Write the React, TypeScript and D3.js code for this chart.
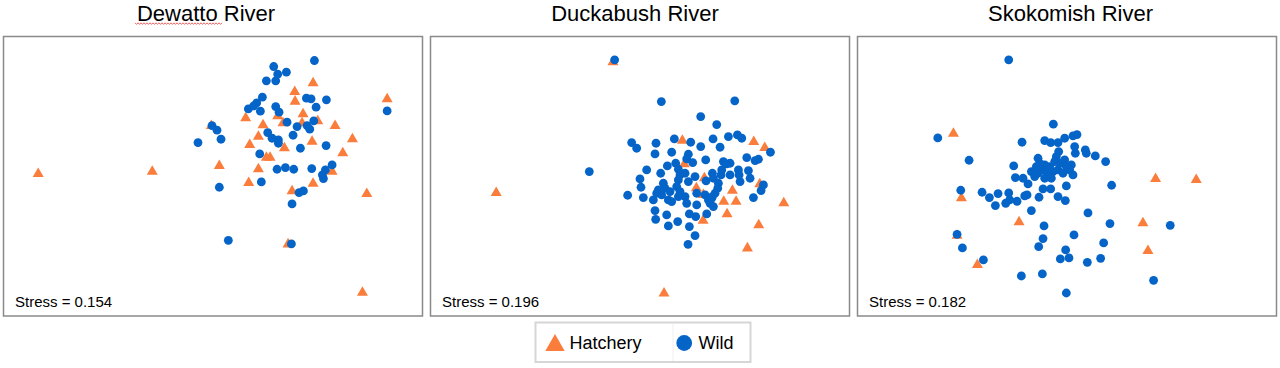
import React from "react";
import * as d3 from "d3";

type Pt = [number, number];

// ---- data (NMDS ordination scores; y grows downward) ----
const rivers = ["Dewatto River", "Duckabush River", "Skokomish River"];
const stressValues = [0.154, 0.196, 0.182];
const groups = ["Hatchery", "Wild"];

const dewattoWild: Pt[] = [
  [942, 182], [820, 200], [858, 217], [832, 223], [798, 243], [826, 243], [786, 292], [918, 295],
  [932, 297], [978, 300], [769, 309], [760, 318], [744, 327], [780, 334], [826, 320], [836, 337],
  [947, 322], [1160, 333], [860, 367], [890, 380], [920, 377], [940, 363], [928, 388], [635, 377],
  [650, 391], [662, 418], [593, 428], [802, 398], [815, 415], [834, 420], [834, 430], [878, 406],
  [900, 445], [977, 437], [778, 462], [830, 508], [855, 503], [880, 508], [934, 506], [995, 495],
  [975, 510], [966, 525], [969, 536], [783, 546], [657, 562], [896, 578], [909, 573], [875, 612],
  [684, 721], [873, 732],
];
const dewattoHatchery: Pt[] = [
  [938, 245], [883, 271], [884, 300], [1160, 293], [908, 338], [736, 350], [832, 344], [788, 371],
  [848, 365], [905, 365], [952, 359], [1004, 373], [633, 373], [1056, 413], [774, 405], [935, 420],
  [748, 430], [852, 440], [1027, 455], [657, 493], [798, 468], [809, 468], [774, 503], [995, 510],
  [745, 544], [938, 546], [875, 569], [1099, 577], [863, 728], [114, 517], [456, 510], [1086, 873],
];

const duckabushWild: Pt[] = [
  [560, 180], [700, 305], [920, 303], [818, 350], [866, 374], [484, 515],
  [611, 428], [626, 445], [684, 430], [681, 462], [739, 417], [788, 427], [818, 440], [855, 417],
  [901, 410], [928, 405], [941, 415], [876, 442], [1027, 457],
  [731, 457], [781, 463], [776, 477], [718, 498], [743, 490], [794, 488], [833, 480],
  [656, 510], [698, 520], [751, 508], [756, 525], [771, 520], [781, 545], [636, 537], [801, 530],
  [834, 543], [853, 520], [856, 535], [956, 473], [981, 482], [991, 478],
  [886, 485], [896, 492], [906, 490], [881, 510], [879, 525], [906, 525], [931, 510], [933, 525],
  [961, 512], [966, 535], [936, 545],
  [639, 562], [706, 550], [711, 565], [691, 570], [701, 585], [686, 580], [751, 540], [746, 560],
  [756, 575], [751, 590], [726, 575], [721, 600], [731, 605], [599, 586], [646, 593], [676, 600],
  [771, 590], [776, 610], [806, 580], [806, 615], [831, 585], [841, 600], [853, 590], [871, 550],
  [869, 565], [861, 580], [851, 595], [846, 610], [856, 620], [1006, 555], [999, 572], [976, 593],
  [681, 632], [716, 645], [749, 665], [784, 642], [803, 650], [683, 658], [721, 678], [784, 680],
  [801, 707], [780, 733], [836, 642],
];
const duckabushHatchery: Pt[] = [
  [555, 182], [763, 417], [977, 421], [1010, 439], [769, 488], [829, 530], [805, 560], [826, 580],
  [995, 548], [913, 567], [887, 600], [924, 600], [1067, 605], [897, 638], [825, 657], [992, 671],
  [958, 740], [708, 875], [205, 574],
];

const skokomishWild: Pt[] = [
  [462, 180], [596, 373], [249, 414], [502, 427], [570, 422], [588, 428], [610, 428], [630, 415],
  [655, 408], [667, 404], [660, 440], [662, 460], [692, 450], [695, 460], [722, 468], [753, 485],
  [343, 481], [477, 498],
  [612, 455], [605, 470], [600, 485], [615, 490], [630, 480], [635, 500], [650, 495], [645, 510],
  [655, 525], [550, 475], [555, 490], [545, 500], [570, 495], [585, 500], [565, 510], [580, 520],
  [595, 515], [610, 510], [625, 520], [590, 535], [570, 535], [550, 520], [530, 515], [540, 530],
  [520, 552], [482, 533], [505, 535], [635, 558], [565, 567], [588, 567], [771, 556], [318, 571],
  [382, 577], [404, 593], [430, 581], [462, 579], [422, 617], [453, 610], [487, 604], [465, 600],
  [510, 588], [517, 585], [553, 592], [610, 590], [632, 602], [530, 632], [700, 639], [568, 678],
  [766, 671], [658, 705], [565, 716], [552, 740], [947, 676], [307, 703], [323, 744], [747, 729],
  [633, 750], [617, 777], [643, 774], [698, 787], [738, 775], [386, 780], [500, 828], [563, 822],
  [897, 841], [635, 879],
];
const skokomishHatchery: Pt[] = [
  [296, 396], [320, 590], [307, 702], [493, 662], [368, 790], [903, 532], [1025, 535], [865, 665],
  [880, 748],
];

const xExtents: [number, number][] = [[10, 1266], [8, 1264], [8, 1266]];
const yExtent: [number, number] = [110, 948];

// ---- layout / style ----
const W = 1280;
const H = 368;
const panelLefts = [3.5, 430.5, 857.5];
const panelTop = 36.5;
const panelW = 419;
const panelH = 279.5;
const titleOffsets = [-7, -5, 3.5];
const BLUE = "#0564C8";
const ORANGE = "#FA7D3C";
const FONT = "'Liberation Sans', Arial, Helvetica, sans-serif";

const panels = rivers.map((name, i) => ({
  name,
  stress: stressValues[i],
  hatchery: [dewattoHatchery, duckabushHatchery, skokomishHatchery][i],
  wild: [dewattoWild, duckabushWild, skokomishWild][i],
  xExt: xExtents[i],
}));

function triPath(cx: number, cy: number, w: number) {
  const h = w * 0.866;
  return `M${cx},${cy - h / 2}L${cx + w / 2},${cy + h / 2}L${cx - w / 2},${cy + h / 2}Z`;
}

function squiggle(x0: number, x1: number, y: number) {
  const pts: [number, number][] = [];
  let k = 0;
  for (let x = x0; x <= x1; x += 1.5, k++) pts.push([x, y + (k % 2 ? 0.8 : -0.8)]);
  return d3.line()(pts) || "";
}

export default function App() {
  return (
    <svg
      width={W}
      height={H}
      style={{ position: "absolute", left: 0, top: 0, background: "#fff" }}
      fontFamily={FONT}
    >
      {panels.map((p, i) => {
        const left = panelLefts[i];
        const x = d3.scaleLinear().domain(p.xExt).range([left, left + panelW]);
        const y = d3.scaleLinear().domain(yExtent).range([panelTop, panelTop + panelH]);
        const cx = left + panelW / 2 + titleOffsets[i];
        return (
          <g key={p.name}>
            <text x={cx} y={21} textAnchor="middle" fontSize={22} fill="#000">
              {p.name}
            </text>
            {i === 0 && (
              <path
                d={squiggle(cx - 71, cx + 16, 23.6)}
                fill="none"
                stroke="#e03c3c"
                strokeWidth={0.8}
              />
            )}
            <rect
              x={left}
              y={panelTop}
              width={panelW}
              height={panelH}
              fill="#fff"
              stroke="#8a8a8a"
              strokeWidth={1.5}
            />
            {p.hatchery.map((d, j) => (
              <path key={"h" + j} d={triPath(x(d[0]), y(d[1]), 11)} fill={ORANGE} />
            ))}
            {p.wild.map((d, j) => (
              <circle key={"w" + j} cx={x(d[0])} cy={y(d[1])} r={4.4} fill={BLUE} />
            ))}
            <text x={left + 11.5} y={306.5} fontSize={15} fill="#000">
              {`Stress = ${p.stress.toFixed(3)}`}
            </text>
          </g>
        );
      })}
      {/* legend */}
      <g>
        <rect x={535.5} y={322.5} width={215} height={39.5} fill="#fff" stroke="#d6d6d6" strokeWidth={2} />
        <line x1={673} x2={673} y1={324} y2={361} stroke="#f0f0f0" strokeWidth={1} />
        <path d={triPath(555, 342.5, 19.4)} fill={ORANGE} />
        <text x={569.5} y={348.5} fontSize={18} fill="#000">
          {groups[0]}
        </text>
        <circle cx={684.2} cy={343} r={7.9} fill={BLUE} />
        <text x={698.5} y={348.5} fontSize={18} fill="#000">
          {groups[1]}
        </text>
      </g>
    </svg>
  );
}
